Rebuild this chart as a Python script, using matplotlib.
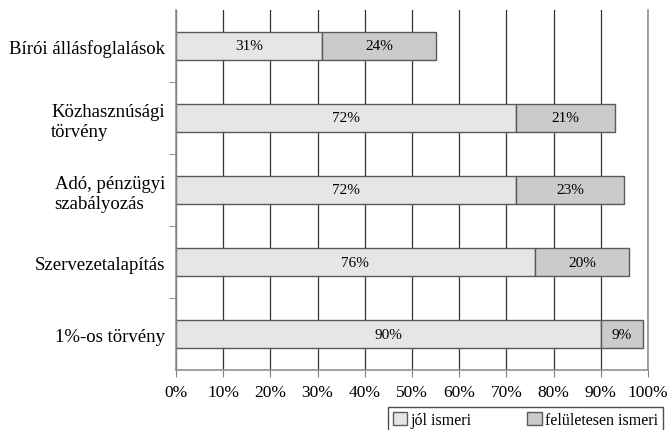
import numpy as np
import matplotlib.pyplot as plt
from matplotlib.patches import Patch
from matplotlib.ticker import FixedLocator

plt.rcParams['font.family'] = ['Liberation Serif', 'DejaVu Serif']

# adatok (felülről lefelé)
kategoriak = ['Bírói állásfoglalások', 'Közhasznúsági\ntörvény', 'Adó, pénzügyi\nszabályozás',
              'Szervezetalapítás', '1%-os törvény']
jol_ismeri = [31, 72, 72, 76, 90]
feluletesen = [24, 21, 23, 20, 9]
sorozatok = ['jól ismeri', 'felületesen ismeri']
x_ertekek = list(range(0, 101, 10))

szin_vilagos = '#e6e6e6'
szin_sotet = '#cbcbcb'
keret = '#5a5a5a'

fig = plt.figure(figsize=(6.67, 4.31), dpi=100)
ax = fig.add_axes([0.2639, 0.1392, 0.7076, 0.8353])

y = np.arange(len(kategoriak))
ax.set_axisbelow(True)
b1 = ax.barh(y, jol_ismeri, height=0.39, color=szin_vilagos, edgecolor=keret, linewidth=1)
b2 = ax.barh(y, feluletesen, left=jol_ismeri, height=0.39, color=szin_sotet,
             edgecolor=keret, linewidth=1)

for bars, vals in ((b1, jol_ismeri), (b2, feluletesen)):
    ax.bar_label(bars, labels=[f'{v}%' for v in vals], label_type='center', fontsize=11)

ax.set_ylim(len(kategoriak) - 0.5, -0.5)
ax.set_xlim(0, 100)
ax.set_yticks(y)
ax.set_yticklabels(kategoriak, fontsize=13.5)
for lbl in ax.get_yticklabels():
    lbl.set_multialignment('left')
ax.yaxis.set_minor_locator(FixedLocator(y[:-1] + 0.5))
ax.tick_params(axis='y', which='major', length=0, pad=8)
ax.tick_params(axis='y', which='minor', length=5, color='#808080')

ax.set_xticks(x_ertekek)
ax.set_xticklabels([f'{v}%' for v in x_ertekek], fontsize=12.5)
ax.tick_params(axis='x', length=5, color='#808080', pad=5)
ax.grid(axis='x', color='#333333', linewidth=0.9)

for s in ('left', 'bottom', 'right'):
    ax.spines[s].set_color('#909090')
    ax.spines[s].set_linewidth(1.2)
ax.spines['top'].set_visible(False)

handles = [Patch(facecolor=szin_vilagos, edgecolor=keret),
           Patch(facecolor=szin_sotet, edgecolor=keret)]
leg = fig.legend(handles, sorozatok, loc='upper left', ncol=2, mode='expand',
                 bbox_to_anchor=(0.5817, 0.0534, 0.412, 0), bbox_transform=fig.transFigure,
                 fontsize=11.5, frameon=True, fancybox=False, borderpad=0.3,
                 handlelength=0.9, handleheight=0.9, handletextpad=0.2, borderaxespad=0)
leg.get_frame().set_edgecolor('#222222')
leg.get_frame().set_linewidth(1)

fig.savefig('out.png', dpi=100)
